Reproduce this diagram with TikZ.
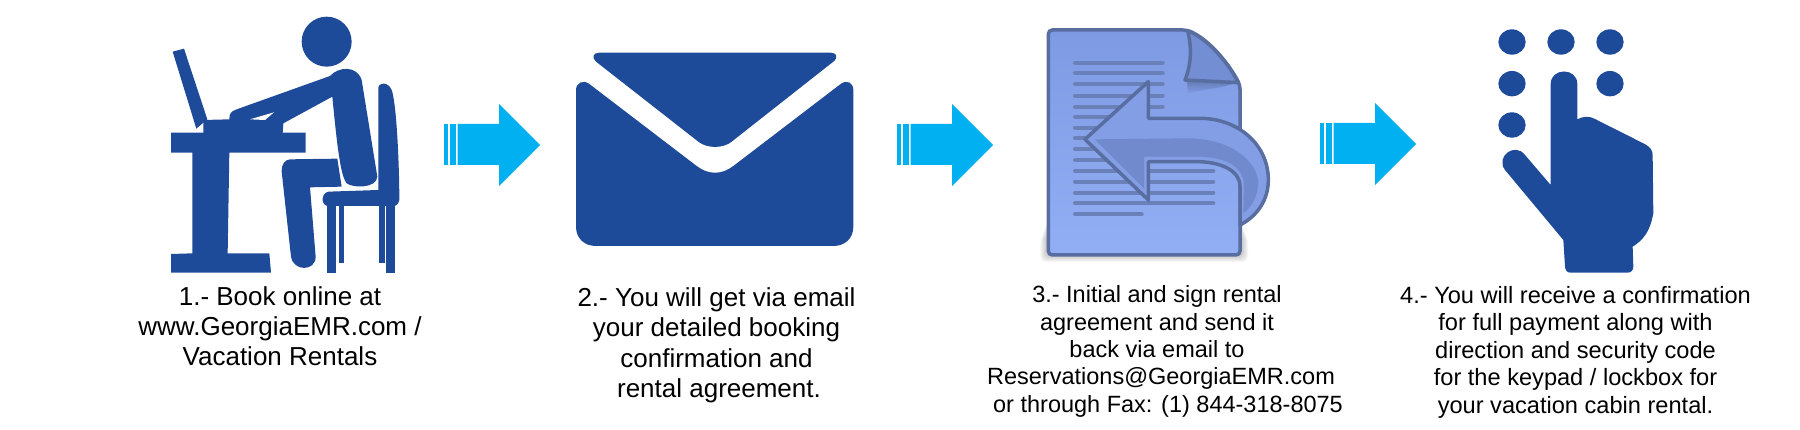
\documentclass[tikz,border=0pt]{standalone}
\usepackage{fontspec}
\setmainfont{Liberation Sans}
\definecolor{iconblue}{RGB}{30,75,153}
\definecolor{arrowcyan}{RGB}{0,176,240}
\definecolor{pageedge}{RGB}{88,110,160}
\definecolor{pagetop}{RGB}{126,154,226}
\definecolor{pagelight}{RGB}{146,174,245}
\definecolor{pagetext}{RGB}{106,128,184}
\definecolor{foldfill}{RGB}{116,142,212}
\definecolor{backfill}{RGB}{132,158,230}
\definecolor{backdark}{RGB}{112,138,205}
\tikzset{
  icon/.style={fill=iconblue},
  steplabel/.style 2 args={align=center, inner sep=0pt, font=\fontsize{#1}{#2}\selectfont},
  pageline/.style={pagetext, line width=4pt, line cap=round}
}
\begin{document}
\begin{tikzpicture}[x=1pt, y=-1pt]
    \useasboundingbox (0,0) rectangle (1800,430);

    % Person at the desk
    \begin{scope}[shift={(130,0)}, scale=1/3]
        \fill[icon] (590,125) circle (75);
        \fill[icon] (128,155) -- (162,146) -- (232,358) -- (199,386) -- cycle;
        \fill[icon] (123,398) -- (527,398) -- (527,458) -- (298,458) -- (293,760) -- (418,760) -- (423,818) -- (123,818) -- (123,762) -- (187,760) -- (187,458) -- (123,458) -- cycle;
        \fill[icon] (220,400) -- (220,360) -- (298,358) .. controls (298,340) and (302,335) .. (320,328) -- (600,228) .. controls (625,200) and (680,195) .. (695,240) -- (742,530) .. controls (740,565) and (670,565) .. (650,550) .. controls (635,530) and (625,480) .. (607,290) -- (460,370) -- (458,400) -- cycle;
        \fill[white] (360,358) -- (432,337) -- (405,360) -- cycle;
        \fill[icon] (480,478) -- (622,476) -- (635,560) -- (540,562) -- (557,770) .. controls (557,815) and (490,815) .. (483,770) -- (455,515) .. controls (455,490) and (465,480) .. (480,478) -- cycle;
        % Chair
        \fill[icon] (745,570) -- (745,265) .. controls (745,245) and (775,245) .. (785,270) .. controls (800,310) and (808,500) .. (808,600) .. controls (805,612) and (800,618) .. (790,618) -- (595,618) .. controls (572,618) and (572,580) .. (595,575) -- cycle;
        \fill[icon] (592,615) rectangle (618,818);
        \fill[icon] (768,615) rectangle (795,818);
        \fill[icon] (627,615) rectangle (642,790);
        \fill[icon] (748,615) rectangle (765,790);
    \end{scope}

    % Arrows between the steps
    \foreach \xpos/\ypos in {444/145, 897/145, 1320/144}{
        \begin{scope}[shift={(\xpos,\ypos)}]
            \fill[arrowcyan] (0,-21) rectangle (4,20);
            \fill[arrowcyan] (6,-21) rectangle (12,20);
            \fill[arrowcyan] (13.5,-21) -- (55,-21) -- (55,-41) -- (96,0) -- (55,41) -- (55,20) -- (13.5,20) -- cycle;
        \end{scope}
    }

    % Envelope
    \begin{scope}[shift={(560,30)}, scale=1/3]
        \fill[icon] (118,68) -- (812,68) .. controls (830,68) and (836,82) .. (820,95) -- (515,335) .. controls (490,356) and (440,356) .. (415,335) -- (108,95) .. controls (94,82) and (100,68) .. (118,68) -- cycle;
        \fill[icon] (48,180) .. controls (48,158) and (70,148) .. (88,162) -- (410,408) .. controls (445,435) and (485,435) .. (520,408) -- (842,162) .. controls (860,148) and (880,158) .. (880,180) -- (880,590) .. controls (880,625) and (855,648) .. (820,648) -- (108,648) .. controls (73,648) and (48,625) .. (48,590) -- cycle;
    \end{scope}

    % Document with the return arrow
    \begin{scope}[shift={(1020,10)}, scale=1/3]
        \foreach \grow in {3,6,...,24}{
            \fill[black, opacity=0.035, rounded corners=5pt] (85-\grow,610+3*\grow) rectangle (660+\grow,732+\grow);
        }
        \shade[top color=pagetop, bottom color=pagelight, rounded corners=4pt, draw=pageedge, line width=3.5pt]
            (85,60) -- (500,60) .. controls (560,85) and (620,150) .. (660,225) -- (660,735) -- (85,735) -- cycle;
        \foreach \ypos in {158,190,222,257,290}{
            \draw[pageline] (165,\ypos) -- (428,\ypos);
        }
        \foreach \ypos in {320,353,385,418,450}{
            \draw[pageline] (165,\ypos) -- (330,\ypos);
        }
        \foreach \ypos in {483,515,548,580}{
            \draw[pageline] (165,\ypos) -- (580,\ypos);
        }
        \draw[pageline] (165,613) -- (365,613);
        % Shadow under the fold
        \shade[top color=pageedge, bottom color=pagetop, opacity=0.7] (500,212) -- (652,218) .. controls (600,235) and (540,240) .. (505,250) -- cycle;
        \fill[foldfill, draw=pageedge, line width=3.5pt, line join=round] (503,62) .. controls (515,110) and (515,160) .. (495,210) -- (655,218) .. controls (620,150) and (560,85) .. (503,62) -- cycle;
        % Return arrow
        \fill[backfill, draw=pageedge, line width=3.5pt, line join=round] (195,388) -- (385,215) -- (385,325) -- (540,325) .. controls (650,325) and (745,400) .. (745,510) .. controls (745,580) and (700,625) .. (660,645) -- (660,530) .. controls (660,480) and (600,455) .. (530,455) -- (385,455) -- (385,570) -- cycle;
        \fill[backdark] (225,388) -- (500,385) .. controls (620,385) and (700,440) .. (715,510) .. controls (715,560) and (695,590) .. (670,610) -- (672,520) .. controls (665,460) and (600,440) .. (530,440) -- (372,440) -- (372,535) -- cycle;
    \end{scope}

    % Hand on the keypad
    \begin{scope}[shift={(1290,10)}, scale=1/3]
        \foreach \xpos/\ypos in {666/96, 813/96, 960/96, 666/221, 960/221, 666/345}{
            \fill[icon] (\xpos,\ypos) ellipse (41 and 38);
        }
        \fill[icon] (782,525) -- (782,222) .. controls (782,172) and (862,172) .. (862,222) -- (862,328) .. controls (880,318) and (900,318) .. (915,327) -- (1060,400) .. controls (1080,410) and (1088,420) .. (1088,435) -- (1090,610) .. controls (1080,665) and (1060,690) .. (1028,710) -- (1030,770) .. controls (1030,782) and (1022,788) .. (1012,788) -- (842,788) .. controls (832,788) and (826,782) .. (825,770) -- (820,690) -- (645,480) .. controls (615,440) and (675,395) .. (705,435) -- cycle;
    \end{scope}

    % Step texts
    \node[steplabel={26}{30.2}] (booktext) at (280,326.3) {1.- Book online at\\www.GeorgiaEMR.com /\\Vacation Rentals};
    \node[steplabel={26}{30.4}] (mailtext) at (716.5,345.2) {2.- You will get via email\\your detailed booking\\confirmation and\\\hspace*{5pt}rental agreement.};
    \node[steplabel={23.5}{27.3}] (signtext) at (1157,351.5) {3.- Initial and sign rental\\agreement and send it\\back via email to\\\hspace*{8pt}Reservations@GeorgiaEMR.com\\\hspace*{22pt}or through Fax: (1) 844-318-8075};
    \node[steplabel={23.6}{27.5}] (paytext) at (1575.5,352) {4.- You will receive a confirmation\\for full payment along with\\direction and security code\\for the keypad / lockbox for\\your vacation cabin rental.};
\end{tikzpicture}
\end{document}
